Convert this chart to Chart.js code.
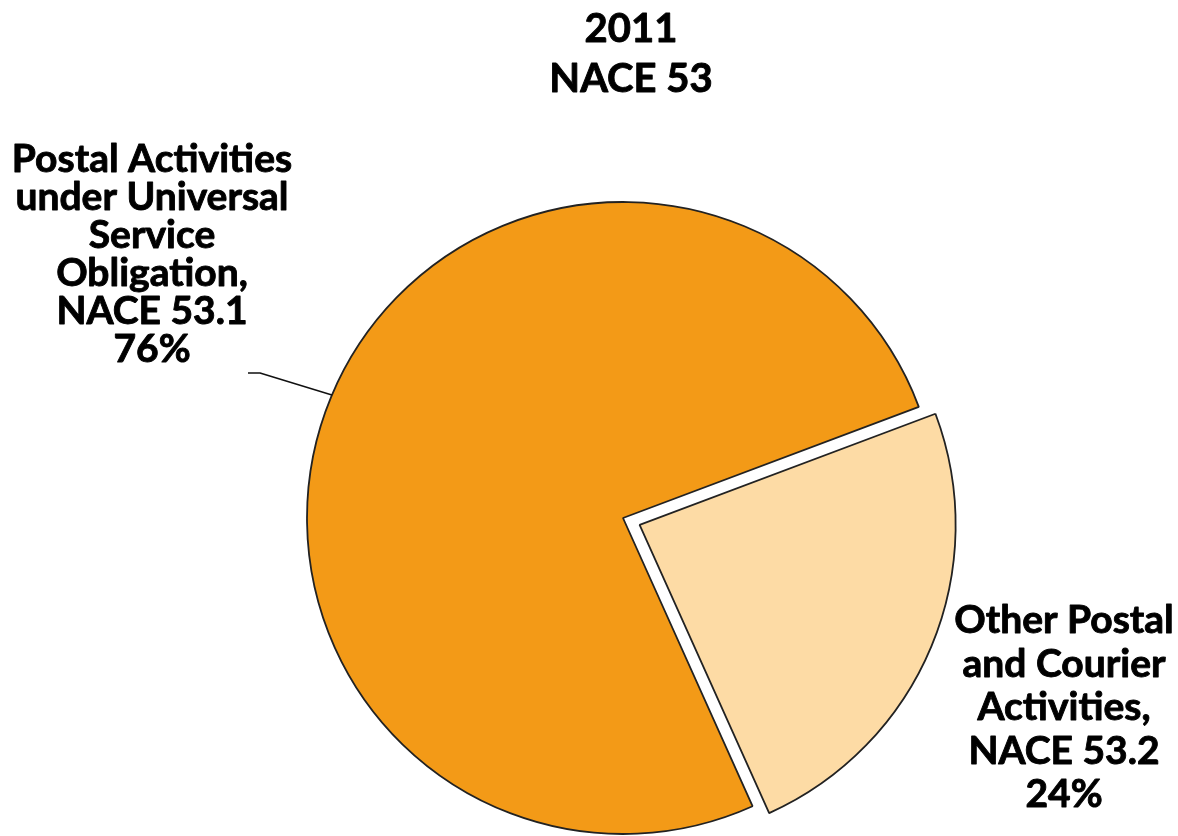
<!DOCTYPE html>
<html>
<head>
<meta charset="utf-8">
<title>NACE 53 - 2011</title>
<script src="https://cdn.jsdelivr.net/npm/chart.js@4/dist/chart.umd.min.js"></script>
<style>
  html, body { margin: 0; padding: 0; background: #fff; }
  canvas { display: block; }
</style>
</head>
<body>
<canvas id="pie" width="1178" height="836"></canvas>
<script>
// data
const titleLines = ['2011', 'NACE 53'];
const categories = ['Postal Activities under Universal Service Obligation, NACE 53.1', 'Other Postal and Courier Activities, NACE 53.2'];
const shares = [76, 24];
const sliceColors = ['#F39A17', '#FDDBA5'];
const sliceOffsets = [0, 72];

// label text split into lines (last line is the share)
const leftLabel = ['Postal Activities', 'under Universal', 'Service', 'Obligation,', 'NACE 53.1'];
const rightLabel = ['Other Postal', 'and Courier', 'Activities,', 'NACE 53.2'];

const FONT = 'Lato, "Open Sans", sans-serif';

// fill + thin stroke so Lato looks as heavy as the original bold face
function boldText(ctx, t, x, y) {
  ctx.fillText(t, x, y);
  ctx.strokeText(t, x, y);
}

// titles, labels and leader line
const textPlugin = {
  id: 'pieText',
  afterDraw(chart) {
    const ctx = chart.ctx;
    ctx.save();
    ctx.fillStyle = '#000';
    ctx.strokeStyle = '#000';
    ctx.lineWidth = 0.9;
    ctx.lineJoin = 'round';
    ctx.textAlign = 'center';
    ctx.textBaseline = 'alphabetic';

    ctx.font = 'bold 40px ' + FONT;
    titleLines.forEach((t, i) => boldText(ctx, t, 631, 42 + i * 50));

    ctx.font = 'bold 39px ' + FONT;
    const left = leftLabel.concat([shares[0] + '%']);
    left.forEach((t, i) => boldText(ctx, t, 152, 171.5 + i * 38));

    const right = rightLabel.concat([shares[1] + '%']);
    right.forEach((t, i) => boldText(ctx, t, 1064, 633 + i * 43.5));

    // leader line to the big slice
    const arc = chart.getDatasetMeta(0).data[0];
    const a = Math.atan2(-123, -291);
    const ex = arc.x + Math.cos(a) * arc.outerRadius;
    const ey = arc.y + Math.sin(a) * arc.outerRadius;
    ctx.strokeStyle = '#111';
    ctx.lineWidth = 1.5;
    ctx.beginPath();
    ctx.moveTo(248, 373);
    ctx.lineTo(260, 373);
    ctx.lineTo(ex, ey);
    ctx.stroke();
    ctx.restore();
  }
};

new Chart(document.getElementById('pie'), {
  type: 'pie',
  data: {
    labels: categories,
    datasets: [{
      data: shares,
      backgroundColor: sliceColors,
      borderColor: '#222',
      borderWidth: 1.8,
      offset: sliceOffsets,
    }]
  },
  options: {
    responsive: false,
    animation: false,
    rotation: 155.8,
    radius: 316,
    layout: { padding: { left: 68, right: 0, top: 200, bottom: 0 } },
    plugins: {
      legend: { display: false },
      tooltip: { enabled: false },
      title: { display: false }
    }
  },
  plugins: [textPlugin]
});
</script>
</body>
</html>
